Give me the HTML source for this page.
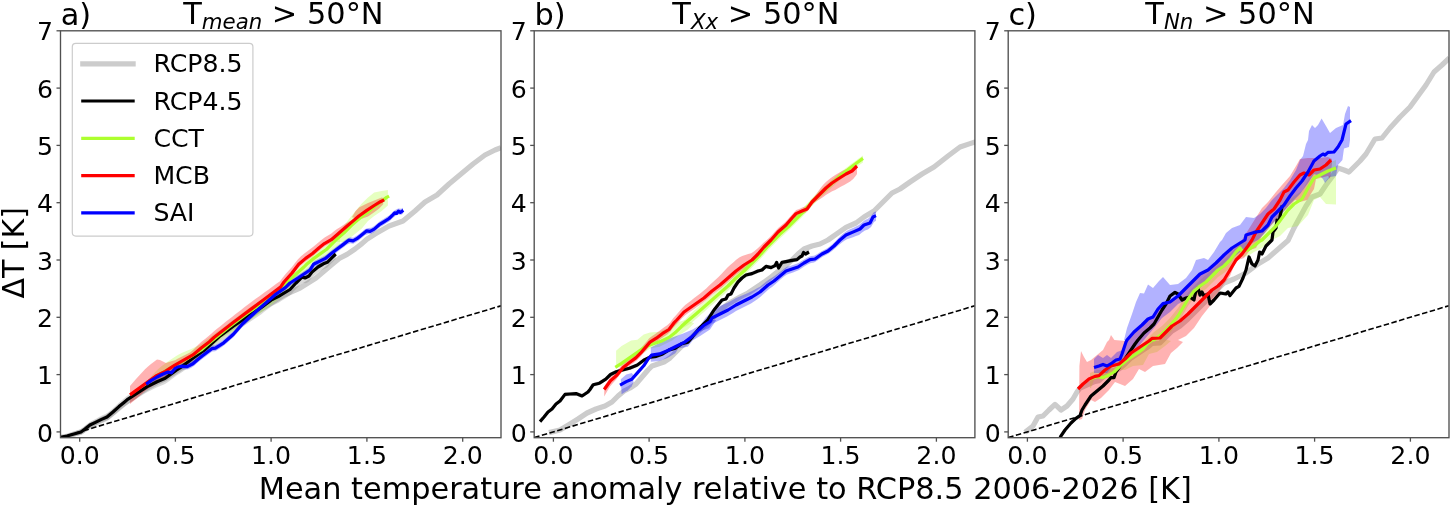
<!DOCTYPE html>
<html lang="en"><head><meta charset="utf-8"><title>Figure</title>
<style>html,body{margin:0;padding:0;background:#fff;overflow:hidden}svg{display:block}</style>
</head><body>
<svg width="1450" height="507" viewBox="0 0 1450 507" font-family='"DejaVu Sans","Liberation Sans",sans-serif'>
<rect width="1450" height="507" fill="#fff"/>
<defs>
<clipPath id="c0"><rect x="60.5" y="30.8" width="440.5" height="406.9"/></clipPath>
<clipPath id="c1"><rect x="534.2" y="30.8" width="440.69999999999993" height="406.9"/></clipPath>
<clipPath id="c2"><rect x="1008.2" y="30.8" width="440.79999999999995" height="406.9"/></clipPath>
</defs>
<g clip-path="url(#c0)">
<polyline points="60.0,437.4 67.0,436.4 74.0,434.0 81.0,432.0 85.0,429.4 90.0,425.6 95.0,423.0 101.0,420.0 107.0,417.4 113.0,412.6 119.0,407.6 124.0,403.6 130.0,399.6 137.0,394.6 143.0,390.8 150.0,386.4 157.0,382.4 165.0,378.8 171.0,374.8 177.0,370.8 185.0,365.8 191.0,361.8 197.0,356.8 218.0,336.6 228.0,330.0 240.0,322.0 250.0,316.0 258.0,311.0 268.0,305.0 284.0,295.0 300.0,288.0 316.0,278.0 331.3,265.0 339.2,258.4 347.1,254.4 355.0,249.0 361.9,243.6 366.8,239.2 370.0,237.2 375.0,234.0 389.0,226.0 403.0,221.0 415.0,211.0 425.0,202.0 437.0,195.0 449.0,184.0 461.0,174.0 473.0,164.0 485.0,155.0 495.0,150.0 501.0,147.6" fill="none" stroke="#cccccc" stroke-width="5.2" stroke-linejoin="round" stroke-linecap="butt"/>
<polygon points="60.0,436.4 63.0,435.5 66.0,434.6 69.0,433.5 72.0,432.4 75.0,431.2 78.0,430.1 81.0,429.0 84.0,426.6 87.0,424.2 90.0,421.8 93.0,420.2 96.0,418.7 99.0,417.1 102.0,415.6 105.0,414.2 108.0,412.5 111.0,409.9 114.0,407.2 117.0,404.5 120.0,401.8 123.0,399.2 126.0,396.7 129.0,394.4 132.0,392.5 135.0,390.5 138.0,388.6 141.0,386.7 144.0,384.7 147.0,382.8 150.0,381.3 153.0,379.8 156.0,378.3 159.0,376.9 162.0,375.7 165.0,374.4 168.0,372.3 171.0,370.0 174.0,367.8 177.0,365.6 180.0,363.7 183.0,361.7 186.0,359.5 189.0,357.2 192.0,355.0 195.0,352.7 198.0,350.5 201.0,348.2 204.0,346.3 207.0,343.8 210.0,341.1 213.0,338.3 216.0,335.6 219.0,332.8 222.0,330.6 225.0,328.3 228.0,326.1 231.0,323.8 234.0,321.6 237.0,319.6 240.0,317.6 243.0,315.6 246.0,313.6 249.0,311.6 252.0,309.7 255.0,307.7 258.0,305.7 261.0,303.8 264.0,301.6 267.0,299.4 270.0,297.2 273.0,295.4 276.0,294.0 279.0,292.4 282.0,290.6 285.0,288.9 288.0,287.1 291.0,284.9 294.0,281.7 297.0,278.5 300.0,275.6 303.0,273.9 306.0,274.1 309.0,272.7 312.0,268.7 315.0,266.2 318.0,263.8 321.0,262.1 324.0,260.4 327.0,259.3 330.0,256.6 333.0,253.6 335.7,250.9 335.7,259.0 333.0,261.8 330.0,264.8 327.0,267.7 324.0,268.9 321.0,270.6 318.0,272.4 315.0,275.0 312.0,277.6 309.0,281.6 306.0,283.2 303.0,283.1 300.0,284.9 297.0,287.9 294.0,291.1 291.0,294.5 288.0,296.8 285.0,298.7 282.0,300.5 279.0,302.4 276.0,304.1 273.0,305.6 270.0,307.5 267.0,309.8 264.0,312.1 261.0,314.4 258.0,316.4 255.0,318.5 252.0,320.6 249.0,322.6 246.0,324.5 243.0,326.5 240.0,328.4 237.0,330.4 234.0,332.3 231.0,334.4 228.0,336.6 225.0,338.8 222.0,341.0 219.0,343.2 216.0,345.9 213.0,348.6 210.0,351.3 207.0,353.9 204.0,356.4 201.0,358.2 198.0,360.4 195.0,362.7 192.0,364.9 189.0,367.1 186.0,369.3 183.0,371.5 180.0,373.5 177.0,375.3 174.0,377.5 171.0,379.7 168.0,381.9 165.0,384.0 162.0,385.2 159.0,386.4 156.0,387.7 153.0,389.2 150.0,390.7 147.0,392.2 144.0,394.0 141.0,395.9 138.0,397.8 135.0,399.7 132.0,401.6 129.0,403.5 126.0,405.8 123.0,408.3 120.0,410.8 117.0,413.3 114.0,415.8 111.0,418.2 108.0,420.6 105.0,422.1 102.0,423.3 99.0,424.6 96.0,425.9 93.0,427.2 90.0,428.5 87.0,430.8 84.0,432.9 81.0,435.1 78.0,435.7 75.0,436.2 72.0,436.8 69.0,437.3 66.0,437.8 63.0,438.1 60.0,438.4" fill="#808080" fill-opacity="0.3"/>
<polygon points="146.2,381.8 149.2,378.5 152.2,375.2 155.2,372.0 158.2,369.0 161.2,366.4 164.2,364.3 167.2,362.1 170.2,360.1 173.2,358.1 176.2,356.1 179.2,354.2 182.2,352.7 185.2,351.5 188.2,350.2 191.2,348.9 194.2,347.5 197.2,346.1 200.2,344.7 203.2,342.5 206.2,340.1 209.2,337.8 212.2,335.5 215.2,333.3 218.2,331.1 221.2,328.9 224.2,326.8 227.2,324.4 230.2,322.1 233.2,319.8 236.2,317.6 239.2,315.3 242.2,313.1 245.2,310.8 248.2,308.6 251.2,306.5 254.2,304.5 257.2,302.4 260.2,300.4 263.2,298.3 266.2,296.2 269.2,294.1 272.2,291.9 275.2,289.8 278.2,287.7 281.2,285.5 284.2,282.1 287.2,277.9 290.2,275.2 293.2,272.5 296.2,269.8 299.2,267.2 302.2,264.6 305.2,261.8 308.2,259.0 311.2,256.5 314.2,254.2 317.2,252.1 320.2,249.9 323.2,247.8 326.2,245.8 329.2,243.1 332.2,240.4 335.2,237.7 338.2,235.5 340.0,234.3 340.0,245.3 338.2,246.8 335.2,249.7 332.2,252.4 329.2,255.1 326.2,257.8 323.2,259.7 320.2,261.7 317.2,263.7 314.2,265.7 311.2,267.8 308.2,270.2 305.2,272.8 302.2,275.6 299.2,278.2 296.2,280.8 293.2,283.5 290.2,286.2 287.2,289.1 284.2,293.5 281.2,297.1 278.2,299.4 275.2,301.8 272.2,304.1 269.2,306.5 266.2,308.8 263.2,311.1 260.2,313.3 257.2,315.4 254.2,317.5 251.2,319.5 248.2,321.6 245.2,323.8 242.2,326.1 239.2,328.1 236.2,329.8 233.2,331.4 230.2,333.1 227.2,334.8 224.2,336.8 221.2,339.1 218.2,341.4 215.2,343.7 212.2,346.1 209.2,348.4 206.2,350.9 203.2,353.4 200.2,355.6 197.2,357.5 194.2,359.4 191.2,361.3 188.2,363.0 185.2,364.7 182.2,366.4 179.2,368.1 176.2,369.8 173.2,371.5 170.2,373.1 167.2,374.9 164.2,376.7 161.2,378.5 158.2,380.1 155.2,381.6 152.2,383.3 149.2,385.1 146.2,386.9" fill="#adff2f" fill-opacity="0.3"/>
<polygon points="330.7,239.6 341.9,228.4 349.4,218.5 355.6,211.1 361.8,203.6 368.0,197.4 374.2,192.4 381.7,190.9 387.9,189.9 387.9,205.5 381.7,211.1 374.2,216.0 368.0,221.0 361.8,228.4 355.6,233.4 349.4,238.4 344.4,242.1 337.0,242.1" fill="#adff2f" fill-opacity="0.3"/>
<polygon points="130.0,385.9 133.0,382.5 136.0,379.1 139.0,375.7 142.0,372.4 145.0,369.2 148.0,366.5 151.0,364.1 154.0,361.7 157.0,359.6 160.0,360.1 163.0,361.6 166.0,362.9 169.0,362.0 172.0,361.1 175.0,360.2 178.0,358.6 181.0,357.1 184.0,355.6 187.0,354.1 190.0,352.5 193.0,350.1 196.0,347.0 199.0,343.9 202.0,341.3 205.0,339.0 208.0,336.6 211.0,334.1 214.0,331.2 217.0,328.8 220.0,326.4 223.0,324.0 226.0,321.6 229.0,319.3 232.0,316.9 235.0,314.5 238.0,312.2 241.0,309.9 244.0,307.6 247.0,305.3 250.0,303.0 253.0,300.8 256.0,298.6 259.0,296.4 262.0,294.3 265.0,292.1 268.0,289.9 271.0,287.7 274.0,285.5 277.0,283.3 280.0,281.2 283.0,277.2 286.0,273.5 289.0,270.2 292.0,266.9 295.0,263.1 298.0,259.2 301.0,256.3 304.0,253.8 307.0,251.4 310.0,249.3 313.0,247.0 316.0,244.5 319.0,241.9 322.0,239.5 325.0,237.2 328.0,235.5 331.0,233.8 334.0,231.3 337.0,229.1 340.0,227.2 343.0,225.2 346.0,223.3 349.0,221.6 352.0,219.9 352.0,223.9 349.0,226.9 346.0,229.9 343.0,232.6 340.0,235.2 337.0,237.7 334.0,240.3 331.0,242.8 328.0,244.5 325.0,246.2 322.0,248.5 319.0,250.9 316.0,253.5 313.0,256.0 310.0,258.3 307.0,260.4 304.0,262.8 301.0,265.3 298.0,268.2 295.0,272.1 292.0,276.0 289.0,279.5 286.0,282.9 283.0,286.7 280.0,290.8 277.0,293.1 274.0,295.5 271.0,297.8 268.0,300.1 265.0,302.4 262.0,304.7 259.0,307.0 256.0,309.4 253.0,311.7 250.0,314.0 247.0,316.2 244.0,318.5 241.0,320.7 238.0,323.0 235.0,325.2 232.0,327.5 229.0,329.8 226.0,332.2 223.0,334.5 220.0,336.8 217.0,339.1 214.0,341.5 211.0,344.3 208.0,346.8 205.0,349.1 202.0,351.3 199.0,353.7 196.0,356.2 193.0,358.7 190.0,360.5 187.0,362.5 184.0,364.4 181.0,366.3 178.0,368.2 175.0,370.2 172.0,372.7 169.0,375.3 166.0,377.9 163.0,379.9 160.0,381.8 157.0,383.5 154.0,385.0 151.0,386.9 148.0,388.8 145.0,391.0 142.0,393.8 139.0,396.4 136.0,399.0 133.0,401.4 130.0,403.9" fill="#ff0000" fill-opacity="0.3"/>
<polygon points="351.9,217.3 355.6,211.1 359.3,207.3 368.0,203.0 374.2,200.5 381.7,197.4 383.2,198.0 383.2,204.2 379.2,208.6 374.2,212.3 368.0,216.6 361.8,218.8 362.4,216.0 358.1,218.5" fill="#ff0000" fill-opacity="0.3"/>
<polygon points="146.2,381.1 149.2,379.0 152.2,376.9 155.2,375.1 158.2,373.3 161.2,371.8 164.2,370.6 167.2,369.4 170.2,369.6 173.2,367.7 176.2,364.9 179.2,363.7 182.2,363.2 185.2,363.4 188.2,363.2 191.2,361.7 194.2,359.7 197.2,357.1 200.2,354.6 203.2,352.2 206.2,349.9 209.2,347.7 212.2,345.6 215.2,345.2 218.2,343.4 221.2,341.4 224.2,339.3 227.2,336.7 230.2,334.1 233.2,331.5 236.2,328.1 239.2,324.7 242.2,321.3 245.2,318.5 248.2,315.7 251.2,313.0 254.2,310.2 257.2,307.5 260.2,304.9 263.2,302.2 266.2,299.6 269.2,297.0 272.2,294.4 275.2,291.7 278.2,289.5 281.2,287.4 284.2,285.3 287.2,282.7 290.2,279.9 293.2,278.0 296.2,276.1 299.2,274.2 302.2,272.2 305.2,270.2 308.2,268.2 311.2,265.1 314.2,261.0 317.2,259.5 320.2,258.0 323.2,256.5 326.2,254.7 329.2,252.2 332.2,249.8 335.2,247.5 338.2,245.3 341.2,243.0 344.2,240.8 347.2,238.5 350.2,237.3 353.2,237.7 356.2,236.1 359.2,233.9 362.2,231.5 365.2,229.1 368.2,228.0 371.2,227.7 374.2,226.1 377.2,223.5 380.2,221.1 383.2,219.2 386.2,217.3 389.2,215.5 392.2,212.5 395.2,210.1 398.2,208.4 401.2,208.8 403.0,207.7 403.0,213.7 401.2,214.8 398.2,214.4 395.2,216.1 392.2,218.5 389.2,221.5 386.2,223.3 383.2,225.2 380.2,227.1 377.2,229.5 374.2,232.1 371.2,233.7 368.2,234.0 365.2,235.1 362.2,237.5 359.2,239.9 356.2,242.1 353.2,243.7 350.2,243.3 347.2,244.5 344.2,246.8 341.2,249.0 338.2,251.3 335.2,253.5 332.2,255.8 329.2,258.2 326.2,260.7 323.2,262.5 320.2,264.0 317.2,265.5 314.2,267.0 311.2,271.1 308.2,274.2 305.2,276.2 302.2,278.2 299.2,280.2 296.2,282.1 293.2,284.0 290.2,285.9 287.2,288.7 284.2,291.3 281.2,293.4 278.2,295.5 275.2,297.7 272.2,300.4 269.2,303.0 266.2,305.6 263.2,308.2 260.2,310.9 257.2,313.5 254.2,316.2 251.2,319.0 248.2,321.7 245.2,324.5 242.2,327.3 239.2,330.7 236.2,334.1 233.2,337.5 230.2,340.1 227.2,342.7 224.2,345.3 221.2,347.4 218.2,349.4 215.2,351.2 212.2,351.6 209.2,353.7 206.2,355.9 203.2,358.2 200.2,360.6 197.2,363.1 194.2,365.7 191.2,367.7 188.2,369.2 185.2,369.4 182.2,369.2 179.2,369.7 176.2,370.9 173.2,373.7 170.2,375.6 167.2,375.4 164.2,376.6 161.2,377.8 158.2,379.3 155.2,381.1 152.2,382.9 149.2,385.0 146.2,387.1" fill="#0000ff" fill-opacity="0.3"/>
<line x1="60.5" y1="437.6" x2="501.0" y2="305.8" stroke="#000" stroke-width="1.6" stroke-dasharray="5.5,2.5"/>
<polyline points="60.0,437.4 67.0,436.0 74.0,434.0 81.0,432.0 85.0,429.0 90.0,425.0 95.0,422.6 101.0,419.6 107.0,417.0 113.0,412.0 119.0,406.6 124.0,402.4 128.0,399.1 137.6,392.8 147.3,386.6 157.0,381.8 165.2,378.3 170.8,374.2 176.3,370.1 181.8,366.6 187.3,362.5 192.9,358.3 201.2,352.1 204.7,349.9 219.0,336.8 233.2,326.2 247.4,316.7 261.6,307.2 271.1,300.1 278.2,296.6 290.0,289.5 296.0,283.0 300.0,279.0 302.0,277.0 305.0,278.0 309.0,276.0 312.0,272.0 318.0,267.0 321.4,265.0 323.4,263.8 327.3,262.3 331.3,258.4 335.7,254.0" fill="none" stroke="#000" stroke-width="3.2" stroke-linejoin="round" stroke-linecap="butt"/>
<polyline points="146.2,383.9 155.6,377.0 168.0,369.4 179.1,363.1 190.1,356.9 201.2,350.0 209.5,342.8 228.4,327.4 247.4,313.2 266.3,300.1 282.9,288.3 286.0,283.0 296.0,274.0 304.0,267.0 306.6,264.3 312.5,259.4 319.4,254.4 326.4,249.5 331.3,244.6 337.2,238.7 344.1,232.8 351.0,225.8 357.9,219.9 363.8,215.0 366.8,212.9 374.2,206.7 381.7,201.1 386.6,197.4 389.1,196.1" fill="none" stroke="#adff2f" stroke-width="3.2" stroke-linejoin="round" stroke-linecap="butt"/>
<polyline points="130.0,394.9 137.6,389.4 145.9,383.2 155.6,376.3 165.2,371.4 174.9,365.2 184.6,359.7 192.9,354.9 201.2,348.0 209.4,341.7 214.2,337.3 233.2,322.6 252.1,308.4 266.3,297.8 280.5,287.1 284.0,282.0 292.0,273.0 298.7,264.3 305.6,258.4 312.5,253.5 319.4,247.5 324.4,243.6 331.3,239.7 338.2,233.7 345.1,227.8 352.0,221.9 358.9,216.0 366.8,210.4 374.2,205.5 380.4,201.7 384.2,199.9" fill="none" stroke="#ff0000" stroke-width="3.2" stroke-linejoin="round" stroke-linecap="butt"/>
<polyline points="146.2,384.1 151.4,380.4 157.0,377.0 162.5,374.2 168.0,372.1 171.5,372.8 174.9,368.7 177.7,367.0 181.8,366.2 187.3,366.6 192.9,363.8 198.4,359.0 202.4,355.8 211.8,348.7 215.4,348.2 223.7,342.8 233.2,334.5 242.6,323.8 256.8,310.8 266.3,302.5 275.8,294.2 285.3,287.6 290.0,283.0 298.0,278.0 304.0,274.0 310.0,270.0 313.5,264.3 319.4,261.4 325.4,258.4 331.3,253.5 337.2,249.0 343.1,244.6 349.0,240.1 353.0,240.8 356.9,238.7 361.9,234.7 366.8,230.8 370.0,231.3 374.2,229.1 379.2,224.7 384.2,221.6 389.1,218.5 392.9,214.8 394.7,212.9 396.6,213.5 398.4,211.1 400.3,212.3 403.4,210.4" fill="none" stroke="#0000ff" stroke-width="3.2" stroke-linejoin="round" stroke-linecap="butt"/>
</g>
<rect x="60.5" y="30.8" width="440.5" height="406.9" fill="none" stroke="#505050" stroke-width="1.35"/>
<line x1="56.5" x2="60.5" y1="431.9" y2="431.9" stroke="#505050" stroke-width="1.3"/>
<text x="53.1" y="441.5" font-size="25.2" text-anchor="end">0</text>
<line x1="56.5" x2="60.5" y1="374.6" y2="374.6" stroke="#505050" stroke-width="1.3"/>
<text x="53.1" y="384.2" font-size="25.2" text-anchor="end">1</text>
<line x1="56.5" x2="60.5" y1="317.3" y2="317.3" stroke="#505050" stroke-width="1.3"/>
<text x="53.1" y="326.9" font-size="25.2" text-anchor="end">2</text>
<line x1="56.5" x2="60.5" y1="260.0" y2="260.0" stroke="#505050" stroke-width="1.3"/>
<text x="53.1" y="269.6" font-size="25.2" text-anchor="end">3</text>
<line x1="56.5" x2="60.5" y1="202.7" y2="202.7" stroke="#505050" stroke-width="1.3"/>
<text x="53.1" y="212.3" font-size="25.2" text-anchor="end">4</text>
<line x1="56.5" x2="60.5" y1="145.4" y2="145.4" stroke="#505050" stroke-width="1.3"/>
<text x="53.1" y="155.0" font-size="25.2" text-anchor="end">5</text>
<line x1="56.5" x2="60.5" y1="88.1" y2="88.1" stroke="#505050" stroke-width="1.3"/>
<text x="53.1" y="97.7" font-size="25.2" text-anchor="end">6</text>
<line x1="56.5" x2="60.5" y1="30.8" y2="30.8" stroke="#505050" stroke-width="1.3"/>
<text x="53.1" y="40.4" font-size="25.2" text-anchor="end">7</text>
<line x1="79.7" x2="79.7" y1="437.7" y2="441.7" stroke="#505050" stroke-width="1.3"/>
<text x="79.7" y="464.0" font-size="25.2" text-anchor="middle">0.0</text>
<line x1="175.4" x2="175.4" y1="437.7" y2="441.7" stroke="#505050" stroke-width="1.3"/>
<text x="175.4" y="464.0" font-size="25.2" text-anchor="middle">0.5</text>
<line x1="271.1" x2="271.1" y1="437.7" y2="441.7" stroke="#505050" stroke-width="1.3"/>
<text x="271.1" y="464.0" font-size="25.2" text-anchor="middle">1.0</text>
<line x1="366.9" x2="366.9" y1="437.7" y2="441.7" stroke="#505050" stroke-width="1.3"/>
<text x="366.9" y="464.0" font-size="25.2" text-anchor="middle">1.5</text>
<line x1="462.7" x2="462.7" y1="437.7" y2="441.7" stroke="#505050" stroke-width="1.3"/>
<text x="462.7" y="464.0" font-size="25.2" text-anchor="middle">2.0</text>
<text x="60.7" y="24.5" font-size="30.4">a)</text>
<text x="283.4" y="24.4" font-size="30.4" text-anchor="middle">T<tspan font-style="oblique" font-size="21.3" dy="4.5">mean</tspan><tspan dy="-4.5"> &gt; 50°N</tspan></text>
<g clip-path="url(#c1)">
<polyline points="549.0,432.6 560.0,430.0 570.0,424.0 578.0,419.0 587.0,413.0 596.0,409.0 605.0,406.0 612.0,402.0 618.0,396.0 624.0,391.0 630.0,388.0 636.0,384.0 642.0,377.0 648.0,370.0 652.0,366.0 658.0,364.0 664.0,362.0 670.0,358.0 676.0,352.0 682.0,346.0 688.0,341.0 696.0,333.0 704.0,326.0 712.0,319.0 720.0,310.0 728.0,304.0 740.0,297.0 748.0,293.0 760.0,285.0 770.0,278.0 776.0,273.0 784.0,267.0 792.0,260.0 798.0,254.0 804.0,249.0 812.0,246.0 820.0,244.0 828.0,240.0 836.0,234.4 846.0,227.4 856.0,223.0 864.0,217.0 874.0,211.0 882.0,203.0 892.0,193.0 900.0,189.0 910.0,182.0 922.0,174.0 934.0,167.0 948.0,156.0 960.0,147.0 970.0,143.6 976.0,141.6" fill="none" stroke="#cccccc" stroke-width="5.2" stroke-linejoin="round" stroke-linecap="butt"/>
<polygon points="541.0,418.5 544.0,415.0 547.0,411.2 550.0,408.5 553.0,405.8 556.0,402.0 559.0,399.8 562.0,396.4 565.0,392.4 568.0,392.2 571.0,391.9 574.0,391.7 577.0,392.0 580.0,393.2 583.0,393.3 586.0,391.3 589.0,388.7 592.0,384.5 595.0,382.3 598.0,381.5 601.0,380.2 604.0,378.3 607.0,376.0 610.0,373.0 613.0,371.2 616.0,369.9 619.0,369.0 622.0,368.1 625.0,367.3 628.0,366.5 631.0,365.6 634.0,364.4 637.0,363.2 640.0,361.0 643.0,358.8 646.0,357.1 649.0,355.6 652.0,354.9 655.0,354.5 658.0,353.7 661.0,352.6 664.0,351.1 667.0,349.2 670.0,347.7 673.0,346.8 676.0,345.6 679.0,343.5 682.0,341.6 685.0,340.8 688.0,340.0 691.0,336.5 694.0,332.9 697.0,329.1 700.0,325.6 703.0,322.6 706.0,319.6 709.0,315.9 712.0,311.1 715.0,306.8 718.0,303.0 721.0,299.2 724.0,297.5 727.0,295.0 730.0,292.3 733.0,288.0 736.0,283.0 739.0,279.0 742.0,276.0 745.0,273.8 748.0,272.5 751.0,271.8 754.0,270.7 757.0,269.4 760.0,268.5 763.0,267.1 766.0,264.4 769.0,265.1 772.0,265.1 775.0,263.6 778.0,264.3 781.0,262.0 784.0,260.0 787.0,259.4 790.0,258.8 793.0,258.2 796.0,257.8 799.0,255.9 802.0,254.0 805.0,251.5 808.0,250.6 809.0,250.0 809.0,254.0 808.0,254.6 805.0,255.5 802.0,258.0 799.0,259.9 796.0,261.8 793.0,262.2 790.0,262.8 787.0,263.4 784.0,264.0 781.0,266.0 778.0,268.3 775.0,267.6 772.0,269.1 769.0,269.1 766.0,268.4 763.0,271.1 760.0,272.5 757.0,273.4 754.0,274.7 751.0,275.8 748.0,276.5 745.0,277.8 742.0,280.0 739.0,283.0 736.0,287.0 733.0,292.0 730.0,296.3 727.0,299.0 724.0,301.5 721.0,303.2 718.0,307.0 715.0,310.8 712.0,315.1 709.0,319.9 706.0,323.6 703.0,326.6 700.0,329.6 697.0,333.1 694.0,336.9 691.0,340.5 688.0,344.0 685.0,344.8 682.0,345.6 679.0,347.5 676.0,349.6 673.0,350.8 670.0,351.7 667.0,353.2 664.0,355.1 661.0,356.6 658.0,357.7 655.0,358.5 652.0,358.9 649.0,359.6 646.0,361.1 643.0,362.8 640.0,365.0 637.0,367.2 634.0,368.4 631.0,369.6 628.0,370.5 625.0,371.3 622.0,372.1 619.0,373.0 616.0,373.9 613.0,375.2 610.0,377.0 607.0,380.0 604.0,382.3 601.0,384.2 598.0,385.5 595.0,386.3 592.0,388.5 589.0,392.7 586.0,395.3 583.0,397.3 580.0,397.2 577.0,396.0 574.0,395.7 571.0,395.9 568.0,396.2 565.0,396.4 562.0,400.4 559.0,403.8 556.0,406.0 553.0,409.8 550.0,412.5 547.0,415.2 544.0,419.0 541.0,422.5" fill="#808080" fill-opacity="0.3"/>
<polygon points="680.0,325.9 683.0,322.2 686.0,318.7 689.0,315.2 692.0,312.4 695.0,309.8 698.0,307.2 701.0,304.6 704.0,302.0 707.0,299.4 710.0,296.9 713.0,294.3 716.0,291.7 719.0,289.1 722.0,286.5 725.0,283.9 728.0,281.3 731.0,278.3 734.0,275.3 737.0,272.5 740.0,269.9 743.0,267.3 746.0,264.5 749.0,261.5 752.0,258.5 755.0,255.6 758.0,252.6 761.0,249.5 764.0,246.1 767.0,242.8 770.0,239.7 773.0,236.7 776.0,233.8 779.0,230.8 782.0,228.1 785.0,225.5 788.0,222.9 791.0,219.9 794.0,216.9 797.0,214.0 800.0,211.0 803.0,208.0 806.0,204.8 809.0,201.5 812.0,198.2 815.0,195.2 818.0,192.3 821.0,189.4 824.0,186.8 827.0,184.1 830.0,181.5 833.0,178.8 836.0,176.2 839.0,173.5 842.0,171.1 845.0,168.7 848.0,166.4 851.0,164.1 854.0,161.9 857.0,159.7 860.0,157.5 863.0,155.4 863.0,162.4 860.0,164.6 857.0,166.8 854.0,169.0 851.0,171.2 848.0,173.6 845.0,176.0 842.0,178.4 839.0,180.9 836.0,183.6 833.0,186.3 830.0,189.0 827.0,191.7 824.0,194.4 821.0,197.1 818.0,200.0 815.0,203.0 812.0,206.0 809.0,209.4 806.0,212.8 803.0,216.0 800.0,219.0 797.0,222.0 794.0,225.1 791.0,228.1 788.0,231.1 785.0,233.8 782.0,236.4 779.0,239.2 776.0,242.2 773.0,245.3 770.0,248.3 767.0,251.5 764.0,254.9 761.0,258.3 758.0,261.4 755.0,264.4 752.0,267.5 749.0,270.5 746.0,273.5 743.0,276.4 740.0,279.1 737.0,281.8 734.0,284.7 731.0,287.7 728.0,290.7 725.0,293.4 722.0,296.0 719.0,298.7 716.0,301.3 713.0,304.0 710.0,306.6 707.0,309.3 704.0,312.0 701.0,314.6 698.0,317.2 695.0,319.8 692.0,322.4 689.0,324.6 686.0,326.3 683.0,328.0 680.0,329.9" fill="#adff2f" fill-opacity="0.3"/>
<polygon points="616.1,367.4 616.1,350.8 621.6,346.1 631.1,340.5 637.4,339.7 643.7,334.5 650.0,332.6 659.5,331.8 665.8,328.7 675.3,323.2 684.7,320.0 694.2,323.2 687.9,329.5 678.4,335.8 672.1,340.5 659.5,346.8 650.0,348.4 642.1,353.9 637.4,357.1 631.1,359.5 621.6,365.8" fill="#adff2f" fill-opacity="0.3"/>
<polygon points="604.2,386.4 607.2,381.8 610.2,377.2 613.2,374.4 616.2,371.8 619.2,368.3 622.2,364.5 625.2,361.7 628.2,359.4 631.2,357.1 634.2,354.7 637.2,352.0 640.2,349.0 643.2,345.5 646.2,341.9 649.2,338.3 652.2,335.9 655.2,334.0 658.2,331.8 661.2,329.4 664.2,327.3 667.2,325.3 670.2,322.4 673.2,318.2 676.2,315.0 679.2,311.6 682.2,308.1 685.2,305.1 688.2,302.7 691.2,300.4 694.2,298.0 697.2,295.7 700.2,293.4 703.2,291.1 706.2,288.4 709.2,285.6 712.2,282.8 715.2,280.0 718.2,277.2 721.2,274.2 724.2,271.0 727.2,267.8 730.2,265.1 733.2,262.4 736.2,259.8 739.2,257.6 742.2,256.1 745.2,255.0 748.2,254.1 751.2,253.2 754.2,251.2 757.2,248.8 760.2,246.0 763.2,243.0 766.2,240.5 769.2,237.8 772.2,234.7 775.2,231.3 778.2,228.0 781.2,225.5 784.2,222.9 787.2,220.0 790.2,216.6 793.2,213.2 796.2,210.1 799.2,208.9 802.2,207.6 805.2,206.5 808.2,204.2 811.2,200.0 814.2,196.8 817.2,192.8 820.2,188.6 823.2,184.8 826.2,181.8 829.2,179.3 832.2,176.9 835.2,174.9 838.2,173.2 841.2,171.6 844.2,170.0 847.2,168.7 850.2,167.8 853.2,166.4 856.2,165.0 857.0,165.0 857.0,174.0 856.2,175.2 853.2,179.0 850.2,181.4 847.2,183.3 844.2,185.0 841.2,186.6 838.2,188.2 835.2,189.9 832.2,191.2 829.2,193.0 826.2,194.8 823.2,197.1 820.2,199.0 817.2,200.7 814.2,202.8 811.2,206.2 808.2,210.4 805.2,212.9 802.2,214.2 799.2,215.5 796.2,216.9 793.2,220.1 790.2,223.6 787.2,227.2 784.2,230.2 781.2,232.9 778.2,235.6 775.2,239.0 772.2,242.5 769.2,245.8 766.2,248.8 763.2,251.9 760.2,255.4 757.2,258.8 754.2,261.8 751.2,264.5 748.2,266.4 745.2,268.2 742.2,270.3 739.2,272.6 736.2,274.8 733.2,277.4 730.2,280.1 727.2,282.7 724.2,285.3 721.2,287.9 718.2,290.3 715.2,292.6 712.2,294.8 709.2,297.4 706.2,300.1 703.2,302.6 700.2,304.7 697.2,306.8 694.2,308.9 691.2,311.0 688.2,313.1 685.2,315.2 682.2,318.0 679.2,321.4 676.2,324.6 673.2,327.8 670.2,331.8 667.2,334.6 664.2,336.4 661.2,338.5 658.2,340.7 655.2,342.7 652.2,344.5 649.2,346.8 646.2,350.2 643.2,353.6 640.2,357.0 637.2,359.9 634.2,362.4 631.2,364.6 628.2,366.8 625.2,369.0 622.2,371.6 619.2,375.5 616.2,379.6 613.2,382.8 610.2,386.2 607.2,391.3 604.2,396.4" fill="#ff0000" fill-opacity="0.3"/>
<polygon points="700.0,325.8 703.0,321.3 706.0,317.3 709.0,314.2 712.0,310.0 715.0,308.5 718.0,307.0 721.0,305.6 724.0,304.3 727.0,303.0 730.0,301.4 733.0,299.7 736.0,298.1 739.0,296.8 742.0,295.5 745.0,294.2 748.0,292.9 751.0,291.6 754.0,290.0 757.0,288.3 760.0,286.7 763.0,284.2 766.0,281.8 769.0,279.6 772.0,277.8 775.0,275.8 778.0,273.5 781.0,271.2 784.0,268.7 787.0,266.8 790.0,265.9 793.0,264.9 796.0,264.0 799.0,262.7 802.0,260.8 805.0,258.9 808.0,257.3 811.0,256.1 814.0,255.8 817.0,254.3 820.0,252.2 823.0,250.4 826.0,248.9 829.0,247.1 832.0,244.6 835.0,241.8 838.0,238.6 841.0,235.6 844.0,233.0 847.0,230.7 850.0,229.3 853.0,227.9 856.0,226.4 859.0,225.0 862.0,222.4 865.0,219.9 868.0,218.8 871.0,216.1 874.0,212.1 876.0,211.5 876.0,220.7 874.0,222.0 871.0,226.9 868.0,229.6 865.0,230.4 862.0,232.6 859.0,234.9 856.0,236.0 853.0,237.2 850.0,238.3 847.0,239.3 844.0,241.1 841.0,243.3 838.0,245.8 835.0,248.5 832.0,250.9 829.0,253.2 826.0,255.1 823.0,256.6 820.0,258.6 817.0,260.8 814.0,262.4 811.0,262.9 808.0,264.2 805.0,265.9 802.0,267.9 799.0,270.0 796.0,271.3 793.0,272.4 790.0,273.5 787.0,274.5 784.0,276.6 781.0,279.1 778.0,281.8 775.0,284.5 772.0,286.9 769.0,289.1 766.0,291.7 763.0,294.5 760.0,297.3 757.0,299.4 754.0,301.5 751.0,303.4 748.0,305.0 745.0,306.5 742.0,308.0 739.0,309.5 736.0,311.0 733.0,312.9 730.0,314.8 727.0,316.5 724.0,318.0 721.0,319.5 718.0,321.0 715.0,322.5 712.0,324.0 709.0,328.2 706.0,329.3 703.0,330.3 700.0,331.8" fill="#0000ff" fill-opacity="0.3"/>
<polygon points="620.8,379.2 626.3,374.5 631.8,372.9 633.4,375.3 633.4,382.4 631.8,386.3 627.9,390.3 621.6,394.2" fill="#0000ff" fill-opacity="0.3"/>
<polygon points="650.8,347.6 659.5,342.9 672.1,337.4 683.2,333.4 692.6,329.5 700.5,324.7 706.8,320.0 716.3,320.0 710.0,329.5 700.5,335.8 692.6,340.5 687.9,346.8 678.4,348.4 675.3,353.2 667.4,357.9 659.5,361.1 650.8,361.8" fill="#0000ff" fill-opacity="0.3"/>
<line x1="534.2" y1="437.6" x2="974.7" y2="305.8" stroke="#000" stroke-width="1.6" stroke-dasharray="5.5,2.5"/>
<polyline points="540.0,421.6 544.0,417.0 548.0,412.0 552.0,409.0 556.0,404.0 560.0,401.0 565.0,394.4 570.0,394.0 576.0,393.6 582.0,396.0 588.0,392.0 590.0,389.5 593.2,384.7 599.5,383.2 605.8,379.2 610.5,374.5 615.3,372.1 621.6,370.2 629.5,368.2 637.4,365.0 643.7,360.3 650.0,357.1 656.3,356.3 662.6,353.9 669.0,350.0 675.3,348.1 681.6,343.7 687.9,342.1 692.6,336.6 699.0,328.7 705.3,322.4 707.6,320.0 714.0,310.0 718.0,305.0 722.0,300.0 726.0,299.0 728.0,295.0 731.0,294.0 734.0,288.0 738.0,282.0 742.0,278.0 746.0,275.0 752.0,273.6 758.0,271.0 762.0,270.0 766.0,266.4 771.0,267.6 775.0,265.6 776.6,262.4 778.6,268.0 782.0,262.4 786.0,261.6 792.0,260.4 797.0,259.6 800.0,257.0 802.0,256.0 803.6,252.4 805.6,254.0 809.0,252.0" fill="none" stroke="#000" stroke-width="3.2" stroke-linejoin="round" stroke-linecap="butt"/>
<polyline points="615.3,367.4 621.6,363.4 629.5,357.9 637.4,352.4 645.3,346.8 653.2,343.7 661.1,341.3 669.0,337.4 675.3,332.6 681.6,326.3 687.9,320.8 696.0,314.0 704.0,307.0 712.0,300.0 720.0,293.0 728.0,286.0 736.0,278.0 744.0,271.0 752.0,263.0 760.0,255.0 768.0,246.0 774.0,240.0 780.0,234.0 788.0,227.0 796.0,219.0 804.0,211.0 812.0,202.0 820.0,194.0 830.0,185.0 840.0,176.0 850.0,168.0 858.0,162.0 863.0,158.4" fill="none" stroke="#adff2f" stroke-width="3.2" stroke-linejoin="round" stroke-linecap="butt"/>
<polyline points="604.2,389.5 610.5,380.8 616.8,375.3 623.2,367.4 629.5,362.6 635.8,357.9 640.5,353.2 645.3,347.6 650.0,342.1 656.3,338.2 662.6,333.4 669.0,329.5 673.7,323.2 676.8,320.0 684.0,312.0 694.0,305.0 704.0,298.0 712.0,291.0 720.0,285.0 728.0,278.0 736.0,271.0 744.0,265.0 752.0,260.0 758.0,254.0 764.0,247.0 770.0,241.0 771.0,240.0 778.0,232.0 786.0,225.0 792.0,218.0 796.0,213.6 802.0,211.0 807.0,209.0 812.0,202.0 818.0,196.0 826.0,188.0 832.0,183.0 838.0,179.0 846.0,174.0 852.0,171.0 857.0,166.0" fill="none" stroke="#ff0000" stroke-width="3.2" stroke-linejoin="round" stroke-linecap="butt"/>
<polyline points="620.0,385.1 626.3,381.6 631.8,379.2 637.4,372.9 643.7,365.8 648.4,358.7 651.6,355.1 659.5,353.9 667.4,350.8 675.3,346.8 684.7,342.1 691.1,337.4 697.4,331.1 703.7,325.5 710.0,321.6 712.0,318.0 720.0,314.0 728.0,310.0 736.0,305.0 744.0,301.0 752.0,297.0 760.0,292.0 768.0,285.0 774.0,281.0 780.0,276.0 786.0,271.0 792.0,269.0 798.0,267.0 804.0,263.0 810.0,259.6 815.0,259.0 822.0,254.0 828.0,251.0 834.0,246.0 840.0,240.0 846.0,235.0 854.0,231.6 860.0,229.0 864.0,225.0 870.0,223.0 873.0,217.0 876.0,215.6" fill="none" stroke="#0000ff" stroke-width="3.2" stroke-linejoin="round" stroke-linecap="butt"/>
</g>
<rect x="534.2" y="30.8" width="440.69999999999993" height="406.9" fill="none" stroke="#505050" stroke-width="1.35"/>
<line x1="530.2" x2="534.2" y1="431.9" y2="431.9" stroke="#505050" stroke-width="1.3"/>
<text x="526.8000000000001" y="441.5" font-size="25.2" text-anchor="end">0</text>
<line x1="530.2" x2="534.2" y1="374.6" y2="374.6" stroke="#505050" stroke-width="1.3"/>
<text x="526.8000000000001" y="384.2" font-size="25.2" text-anchor="end">1</text>
<line x1="530.2" x2="534.2" y1="317.3" y2="317.3" stroke="#505050" stroke-width="1.3"/>
<text x="526.8000000000001" y="326.9" font-size="25.2" text-anchor="end">2</text>
<line x1="530.2" x2="534.2" y1="260.0" y2="260.0" stroke="#505050" stroke-width="1.3"/>
<text x="526.8000000000001" y="269.6" font-size="25.2" text-anchor="end">3</text>
<line x1="530.2" x2="534.2" y1="202.7" y2="202.7" stroke="#505050" stroke-width="1.3"/>
<text x="526.8000000000001" y="212.3" font-size="25.2" text-anchor="end">4</text>
<line x1="530.2" x2="534.2" y1="145.4" y2="145.4" stroke="#505050" stroke-width="1.3"/>
<text x="526.8000000000001" y="155.0" font-size="25.2" text-anchor="end">5</text>
<line x1="530.2" x2="534.2" y1="88.1" y2="88.1" stroke="#505050" stroke-width="1.3"/>
<text x="526.8000000000001" y="97.7" font-size="25.2" text-anchor="end">6</text>
<line x1="530.2" x2="534.2" y1="30.8" y2="30.8" stroke="#505050" stroke-width="1.3"/>
<text x="526.8000000000001" y="40.4" font-size="25.2" text-anchor="end">7</text>
<line x1="553.4" x2="553.4" y1="437.7" y2="441.7" stroke="#505050" stroke-width="1.3"/>
<text x="553.4" y="464.0" font-size="25.2" text-anchor="middle">0.0</text>
<line x1="649.1" x2="649.1" y1="437.7" y2="441.7" stroke="#505050" stroke-width="1.3"/>
<text x="649.1" y="464.0" font-size="25.2" text-anchor="middle">0.5</text>
<line x1="744.9" x2="744.9" y1="437.7" y2="441.7" stroke="#505050" stroke-width="1.3"/>
<text x="744.9" y="464.0" font-size="25.2" text-anchor="middle">1.0</text>
<line x1="840.6" x2="840.6" y1="437.7" y2="441.7" stroke="#505050" stroke-width="1.3"/>
<text x="840.6" y="464.0" font-size="25.2" text-anchor="middle">1.5</text>
<line x1="936.4" x2="936.4" y1="437.7" y2="441.7" stroke="#505050" stroke-width="1.3"/>
<text x="936.4" y="464.0" font-size="25.2" text-anchor="middle">2.0</text>
<text x="534.4000000000001" y="24.5" font-size="30.4">b)</text>
<text x="755.9" y="24.4" font-size="30.4" text-anchor="middle">T<tspan font-style="oblique" font-size="21.3" dy="4.5">Xx</tspan><tspan dy="-4.5"> &gt; 50°N</tspan></text>
<g clip-path="url(#c2)">
<polyline points="1025.0,432.4 1033.0,426.0 1038.0,417.0 1043.0,416.0 1049.0,410.0 1055.0,404.4 1061.0,410.0 1067.0,406.0 1073.0,399.0 1077.0,392.0 1080.0,388.0 1089.0,384.0 1095.0,381.4 1099.0,380.6 1105.0,375.0 1111.0,371.0 1119.0,369.0 1125.0,364.0 1131.0,358.0 1137.0,354.0 1143.0,350.0 1149.0,346.0 1152.0,343.4 1160.0,343.0 1166.0,337.0 1172.0,331.0 1180.0,326.0 1188.0,319.0 1196.0,311.0 1204.0,303.0 1212.0,295.0 1224.0,283.0 1234.0,279.0 1246.0,273.0 1258.0,264.0 1268.0,258.0 1276.0,251.0 1284.0,244.0 1288.0,240.6 1294.0,228.0 1300.0,217.0 1306.0,206.0 1312.0,197.0 1320.0,194.0 1326.0,185.0 1332.0,177.0 1338.0,168.0 1344.0,170.0 1349.0,172.0 1354.0,167.0 1360.0,161.0 1366.0,154.0 1372.0,144.0 1375.0,139.0 1382.0,138.0 1390.0,128.0 1400.0,117.0 1410.0,107.0 1418.0,96.0 1426.0,85.0 1434.0,72.0 1442.0,65.0 1449.4,58.0" fill="none" stroke="#cccccc" stroke-width="5.2" stroke-linejoin="round" stroke-linecap="butt"/>
<polygon points="1060.0,435.4 1063.0,431.0 1066.0,426.8 1069.0,423.3 1072.0,420.1 1075.0,417.3 1078.0,415.0 1081.0,410.8 1084.0,404.7 1087.0,400.0 1090.0,395.5 1093.0,392.3 1096.0,389.8 1099.0,387.3 1102.0,384.8 1105.0,382.0 1108.0,379.0 1111.0,375.6 1114.0,375.6 1117.0,368.5 1120.0,364.0 1123.0,359.8 1126.0,355.5 1129.0,351.0 1132.0,346.5 1135.0,342.0 1138.0,338.0 1141.0,334.5 1144.0,331.0 1147.0,328.5 1150.0,326.0 1153.0,323.0 1156.0,318.5 1159.0,313.2 1162.0,308.0 1165.0,303.5 1168.0,298.0 1171.0,293.3 1174.0,291.1 1177.0,291.5 1180.0,295.0 1183.0,297.5 1186.0,296.0 1189.0,295.2 1192.0,296.5 1195.0,293.0 1198.0,286.0 1201.0,291.5 1204.0,294.0 1207.0,292.5 1210.0,302.0 1213.0,299.0 1216.0,295.7 1219.0,292.2 1222.0,291.3 1225.0,291.8 1228.0,290.0 1231.0,292.3 1234.0,288.5 1237.0,285.5 1240.0,282.3 1243.0,276.0 1246.0,268.0 1249.0,255.0 1252.0,262.0 1255.0,264.0 1258.0,258.0 1261.0,251.2 1264.0,248.0 1267.0,243.0 1270.0,240.0 1273.0,230.0 1276.0,226.0 1279.0,219.0 1282.0,204.7 1282.0,208.7 1279.0,223.0 1276.0,230.0 1273.0,234.0 1270.0,244.0 1267.0,247.0 1264.0,252.0 1261.0,255.2 1258.0,262.0 1255.0,268.0 1252.0,266.0 1249.0,259.0 1246.0,272.0 1243.0,280.0 1240.0,286.3 1237.0,289.5 1234.0,292.5 1231.0,296.3 1228.0,294.0 1225.0,295.8 1222.0,295.3 1219.0,296.2 1216.0,299.7 1213.0,303.0 1210.0,306.0 1207.0,296.5 1204.0,298.0 1201.0,295.5 1198.0,290.0 1195.0,297.0 1192.0,300.5 1189.0,299.2 1186.0,300.0 1183.0,301.5 1180.0,299.0 1177.0,295.5 1174.0,295.1 1171.0,297.3 1168.0,302.0 1165.0,307.5 1162.0,312.0 1159.0,317.2 1156.0,322.5 1153.0,327.0 1150.0,330.0 1147.0,332.5 1144.0,335.0 1141.0,338.5 1138.0,342.0 1135.0,346.0 1132.0,350.5 1129.0,355.0 1126.0,359.5 1123.0,363.8 1120.0,368.0 1117.0,372.5 1114.0,379.6 1111.0,379.6 1108.0,383.0 1105.0,386.0 1102.0,388.8 1099.0,391.3 1096.0,393.8 1093.0,396.3 1090.0,399.5 1087.0,404.0 1084.0,408.7 1081.0,414.8 1078.0,419.0 1075.0,421.3 1072.0,424.1 1069.0,427.3 1066.0,430.8 1063.0,435.0 1060.0,439.4" fill="#808080" fill-opacity="0.3"/>
<polygon points="1090.0,388.0 1090.0,373.0 1097.0,370.0 1105.0,370.0 1113.0,366.0 1120.0,360.0 1127.0,354.0 1135.0,349.0 1143.0,343.0 1146.0,340.0 1154.0,332.0 1162.0,326.0 1170.0,318.0 1178.0,308.0 1184.0,298.0 1190.0,290.0 1200.0,280.0 1212.0,270.0 1224.0,260.0 1236.0,248.0 1242.0,243.0 1250.0,242.0 1260.0,232.0 1268.0,226.0 1276.0,218.0 1282.0,210.0 1288.0,202.0 1294.0,196.0 1302.0,191.0 1308.0,180.0 1314.0,170.0 1320.0,167.0 1328.0,163.0 1336.0,160.0 1336.0,204.4 1326.0,204.0 1320.0,197.0 1314.0,200.0 1308.0,215.0 1298.0,226.0 1288.0,228.0 1280.0,236.0 1272.0,240.0 1262.0,248.0 1254.0,252.0 1248.0,256.0 1242.0,257.0 1236.0,260.0 1230.0,268.0 1224.0,273.0 1218.0,277.0 1212.0,283.0 1206.0,289.0 1200.0,293.0 1194.0,298.0 1188.0,306.0 1184.0,313.0 1178.0,323.0 1170.0,333.0 1164.0,339.0 1171.0,341.0 1165.0,346.0 1157.0,352.0 1149.0,354.0 1143.0,365.0 1133.0,366.0 1125.0,370.0 1117.0,370.0 1109.0,378.0 1101.0,378.0 1094.0,380.0 1091.0,388.0" fill="#adff2f" fill-opacity="0.3"/>
<polygon points="1079.0,420.0 1079.4,366.0 1081.0,351.0 1084.0,357.0 1087.0,362.0 1091.0,360.0 1097.0,355.0 1103.0,350.0 1107.0,342.0 1109.0,340.0 1111.0,335.0 1114.4,340.0 1126.0,341.0 1134.0,333.0 1142.0,326.0 1148.0,320.0 1153.0,318.0 1158.0,310.0 1163.0,304.6 1170.0,303.0 1178.0,297.0 1186.0,289.0 1194.0,281.0 1200.0,275.0 1208.0,271.0 1216.0,264.0 1224.0,256.0 1232.0,249.0 1240.0,243.0 1262.0,208.0 1268.0,202.0 1276.0,192.0 1282.0,185.0 1290.0,176.0 1296.0,166.0 1300.0,159.0 1308.0,158.0 1320.0,158.0 1328.0,157.0 1332.0,159.0 1332.0,164.0 1330.0,179.0 1328.0,176.0 1316.0,179.0 1314.0,189.0 1307.0,200.0 1300.0,202.0 1295.0,200.0 1280.0,215.0 1262.0,236.0 1256.0,248.0 1250.0,250.0 1244.0,258.0 1238.0,260.0 1234.0,266.0 1230.0,276.0 1224.0,284.0 1216.0,296.0 1210.0,306.0 1202.0,316.0 1194.0,328.0 1186.0,336.0 1178.0,340.0 1183.0,342.0 1177.0,348.0 1171.0,353.0 1165.0,364.0 1153.0,366.0 1145.0,372.0 1139.0,369.0 1133.0,379.0 1125.0,386.0 1115.0,382.0 1109.0,390.0 1101.0,398.0 1095.0,402.0 1091.0,400.0 1085.0,410.0 1082.0,419.0 1079.0,420.0" fill="#ff0000" fill-opacity="0.3"/>
<polygon points="1094.0,373.0 1094.0,359.0 1098.0,355.0 1103.0,358.0 1107.0,355.0 1111.0,358.0 1117.0,352.0 1123.0,350.0 1125.0,346.0 1127.4,341.0 1124.0,340.0 1127.0,328.0 1132.0,314.0 1136.0,302.0 1140.0,293.0 1144.0,293.6 1148.0,284.4 1153.0,288.0 1159.0,281.0 1163.0,277.0 1170.0,285.0 1178.0,284.0 1186.0,278.0 1192.0,270.0 1196.0,260.0 1204.0,258.0 1208.0,260.0 1214.0,252.0 1220.0,242.0 1222.0,240.0 1226.0,233.0 1232.0,228.0 1240.0,225.0 1246.0,217.0 1254.0,218.0 1260.0,214.0 1266.0,208.0 1272.0,200.0 1278.0,194.0 1284.0,188.0 1290.0,180.0 1296.0,170.0 1300.0,160.0 1303.0,156.0 1306.0,144.0 1308.0,140.0 1309.0,131.0 1312.0,125.0 1315.0,128.0 1318.0,125.0 1321.6,118.6 1326.0,126.0 1330.0,133.0 1336.0,128.0 1343.0,125.0 1345.0,114.0 1348.0,106.0 1350.0,107.0 1350.0,140.0 1349.0,147.0 1344.0,148.4 1342.4,160.0 1338.0,165.0 1336.0,176.0 1330.0,177.0 1325.0,183.0 1323.0,179.0 1320.0,176.0 1314.0,174.0 1308.0,183.0 1300.0,194.0 1290.0,204.0 1280.0,216.0 1272.0,224.0 1264.0,234.0 1258.0,240.0 1250.0,244.0 1240.0,252.0 1230.0,260.0 1220.0,270.0 1210.0,278.0 1202.0,286.0 1190.0,298.0 1178.0,304.0 1170.0,312.0 1162.0,318.0 1154.0,328.0 1144.0,340.0 1139.0,346.0 1133.0,352.0 1125.0,360.0 1119.0,364.0 1113.0,366.0 1107.0,373.0 1101.0,373.0 1094.0,373.0" fill="#0000ff" fill-opacity="0.3"/>
<line x1="1008.2" y1="437.6" x2="1448.7" y2="305.8" stroke="#000" stroke-width="1.6" stroke-dasharray="5.5,2.5"/>
<polyline points="1060.0,437.4 1065.0,430.0 1071.0,423.0 1076.0,418.4 1080.0,415.6 1082.0,410.0 1085.0,405.0 1091.0,396.0 1097.0,391.0 1103.0,386.0 1109.0,380.0 1111.0,377.6 1114.0,377.6 1116.0,372.0 1120.0,366.0 1125.0,359.0 1131.0,350.0 1135.0,344.0 1138.0,340.0 1144.0,333.0 1150.0,328.0 1154.0,324.0 1158.0,317.0 1162.0,310.0 1166.0,304.0 1170.0,296.0 1175.0,292.4 1178.0,294.0 1182.0,300.0 1186.0,298.0 1190.0,297.0 1194.0,300.0 1196.0,290.0 1198.0,288.0 1200.0,295.0 1202.0,292.0 1204.0,296.0 1208.0,294.0 1210.0,304.0 1214.0,300.0 1220.0,293.0 1226.0,294.0 1228.0,292.0 1230.0,295.6 1236.0,288.0 1239.0,286.4 1243.0,278.0 1246.0,270.0 1249.0,257.0 1252.0,264.0 1255.0,266.0 1258.0,260.0 1259.6,252.0 1262.0,254.0 1266.0,246.0 1270.0,242.0 1272.0,240.0 1273.0,232.0 1276.0,228.0 1277.0,220.0 1279.0,221.0 1281.0,212.0 1282.2,205.6" fill="none" stroke="#000" stroke-width="3.2" stroke-linejoin="round" stroke-linecap="butt"/>
<polyline points="1090.0,379.0 1097.0,376.4 1103.0,377.6 1109.0,375.0 1114.0,372.0 1120.0,366.0 1127.0,360.0 1133.0,356.0 1139.0,352.0 1143.0,349.0 1147.0,344.0 1152.0,340.0 1154.0,340.0 1162.0,334.0 1170.0,326.0 1178.0,316.0 1184.0,306.0 1188.0,299.0 1194.0,291.0 1200.0,286.0 1206.0,282.0 1212.0,276.0 1218.0,270.0 1224.0,266.0 1230.0,260.0 1236.0,252.0 1240.0,248.0 1242.0,251.0 1248.0,250.0 1254.0,246.0 1260.0,241.0 1262.0,240.0 1268.0,234.0 1276.0,226.0 1282.0,218.0 1288.0,210.0 1294.0,204.0 1302.0,199.0 1308.0,188.0 1314.0,178.0 1320.0,175.0 1328.0,171.0 1336.0,168.0" fill="none" stroke="#adff2f" stroke-width="3.2" stroke-linejoin="round" stroke-linecap="butt"/>
<polyline points="1078.0,389.0 1083.0,384.0 1089.0,379.0 1095.0,376.4 1099.0,375.6 1105.0,370.0 1111.0,366.0 1119.0,364.0 1125.0,359.0 1131.0,353.0 1137.0,349.0 1143.0,345.0 1149.0,341.0 1152.0,338.4 1160.0,338.0 1166.0,332.0 1172.0,326.0 1180.0,321.0 1188.0,314.0 1196.0,306.0 1204.0,298.0 1212.0,290.0 1218.0,286.0 1224.0,280.0 1230.0,270.0 1236.0,260.0 1242.0,254.0 1248.0,246.0 1252.0,240.0 1256.0,232.0 1262.0,223.0 1268.0,214.0 1274.0,209.0 1280.0,200.0 1284.0,192.0 1288.0,190.0 1294.0,182.0 1300.0,175.0 1304.0,173.0 1309.0,175.0 1314.0,170.0 1320.0,169.0 1326.0,165.0 1331.0,160.0" fill="none" stroke="#ff0000" stroke-width="3.2" stroke-linejoin="round" stroke-linecap="butt"/>
<polyline points="1094.0,367.6 1099.0,366.0 1103.0,364.4 1107.0,366.0 1112.0,363.0 1116.0,360.0 1120.0,359.0 1122.0,354.0 1124.0,348.0 1126.0,342.0 1127.0,340.0 1134.0,332.0 1142.0,325.0 1148.0,319.0 1153.0,317.0 1158.0,309.0 1163.0,303.6 1170.0,302.0 1178.0,296.0 1186.0,288.0 1194.0,280.0 1200.0,274.0 1208.0,270.0 1216.0,263.0 1224.0,255.0 1232.0,248.0 1240.0,243.0 1245.0,240.0 1246.0,235.0 1254.0,232.4 1262.0,231.0 1268.0,225.0 1272.0,217.0 1278.0,211.0 1284.0,205.0 1290.0,196.0 1296.0,188.0 1302.0,181.0 1308.0,172.0 1314.0,161.0 1320.0,156.0 1323.0,154.0 1325.0,155.0 1328.0,152.4 1334.0,152.0 1338.0,147.0 1342.0,140.0 1344.0,132.0 1346.0,124.0 1351.0,120.6" fill="none" stroke="#0000ff" stroke-width="3.2" stroke-linejoin="round" stroke-linecap="butt"/>
</g>
<rect x="1008.2" y="30.8" width="440.79999999999995" height="406.9" fill="none" stroke="#505050" stroke-width="1.35"/>
<line x1="1004.2" x2="1008.2" y1="431.9" y2="431.9" stroke="#505050" stroke-width="1.3"/>
<text x="1000.8000000000001" y="441.5" font-size="25.2" text-anchor="end">0</text>
<line x1="1004.2" x2="1008.2" y1="374.6" y2="374.6" stroke="#505050" stroke-width="1.3"/>
<text x="1000.8000000000001" y="384.2" font-size="25.2" text-anchor="end">1</text>
<line x1="1004.2" x2="1008.2" y1="317.3" y2="317.3" stroke="#505050" stroke-width="1.3"/>
<text x="1000.8000000000001" y="326.9" font-size="25.2" text-anchor="end">2</text>
<line x1="1004.2" x2="1008.2" y1="260.0" y2="260.0" stroke="#505050" stroke-width="1.3"/>
<text x="1000.8000000000001" y="269.6" font-size="25.2" text-anchor="end">3</text>
<line x1="1004.2" x2="1008.2" y1="202.7" y2="202.7" stroke="#505050" stroke-width="1.3"/>
<text x="1000.8000000000001" y="212.3" font-size="25.2" text-anchor="end">4</text>
<line x1="1004.2" x2="1008.2" y1="145.4" y2="145.4" stroke="#505050" stroke-width="1.3"/>
<text x="1000.8000000000001" y="155.0" font-size="25.2" text-anchor="end">5</text>
<line x1="1004.2" x2="1008.2" y1="88.1" y2="88.1" stroke="#505050" stroke-width="1.3"/>
<text x="1000.8000000000001" y="97.7" font-size="25.2" text-anchor="end">6</text>
<line x1="1004.2" x2="1008.2" y1="30.8" y2="30.8" stroke="#505050" stroke-width="1.3"/>
<text x="1000.8000000000001" y="40.4" font-size="25.2" text-anchor="end">7</text>
<line x1="1027.4" x2="1027.4" y1="437.7" y2="441.7" stroke="#505050" stroke-width="1.3"/>
<text x="1027.4" y="464.0" font-size="25.2" text-anchor="middle">0.0</text>
<line x1="1123.1" x2="1123.1" y1="437.7" y2="441.7" stroke="#505050" stroke-width="1.3"/>
<text x="1123.1" y="464.0" font-size="25.2" text-anchor="middle">0.5</text>
<line x1="1218.9" x2="1218.9" y1="437.7" y2="441.7" stroke="#505050" stroke-width="1.3"/>
<text x="1218.9" y="464.0" font-size="25.2" text-anchor="middle">1.0</text>
<line x1="1314.6" x2="1314.6" y1="437.7" y2="441.7" stroke="#505050" stroke-width="1.3"/>
<text x="1314.6" y="464.0" font-size="25.2" text-anchor="middle">1.5</text>
<line x1="1410.4" x2="1410.4" y1="437.7" y2="441.7" stroke="#505050" stroke-width="1.3"/>
<text x="1410.4" y="464.0" font-size="25.2" text-anchor="middle">2.0</text>
<text x="1008.4000000000001" y="24.5" font-size="30.4">c)</text>
<text x="1230.0" y="24.4" font-size="30.4" text-anchor="middle">T<tspan font-style="oblique" font-size="21.3" dy="4.5">Nn</tspan><tspan dy="-4.5"> &gt; 50°N</tspan></text>
<rect x="72.3" y="43.3" width="180.6" height="192.8" rx="3.5" fill="#fff" fill-opacity="0.8" stroke="#ccc" stroke-width="1.2"/>
<line x1="82.8" x2="133.1" y1="63.8" y2="63.8" stroke="#cccccc" stroke-width="5.2" stroke-linecap="square"/>
<text x="153.4" y="72.3" font-size="25.2">RCP8.5</text>
<line x1="82.8" x2="133.1" y1="101.0" y2="101.0" stroke="#000" stroke-width="3.2" stroke-linecap="square"/>
<text x="153.4" y="109.5" font-size="25.2">RCP4.5</text>
<line x1="82.8" x2="133.1" y1="138.3" y2="138.3" stroke="#adff2f" stroke-width="3.2" stroke-linecap="square"/>
<text x="153.4" y="146.8" font-size="25.2">CCT</text>
<line x1="82.8" x2="133.1" y1="175.6" y2="175.6" stroke="#ff0000" stroke-width="3.2" stroke-linecap="square"/>
<text x="153.4" y="184.1" font-size="25.2">MCB</text>
<line x1="82.8" x2="133.1" y1="212.8" y2="212.8" stroke="#0000ff" stroke-width="3.2" stroke-linecap="square"/>
<text x="153.4" y="221.3" font-size="25.2">SAI</text>
<text transform="translate(23.5,252.8) rotate(-90)" font-size="30" text-anchor="middle">ΔT [K]</text>
<text x="725.3" y="498.8" font-size="30.35" text-anchor="middle">Mean temperature anomaly relative to RCP8.5 2006-2026 [K]</text>
</svg>
</body></html>
